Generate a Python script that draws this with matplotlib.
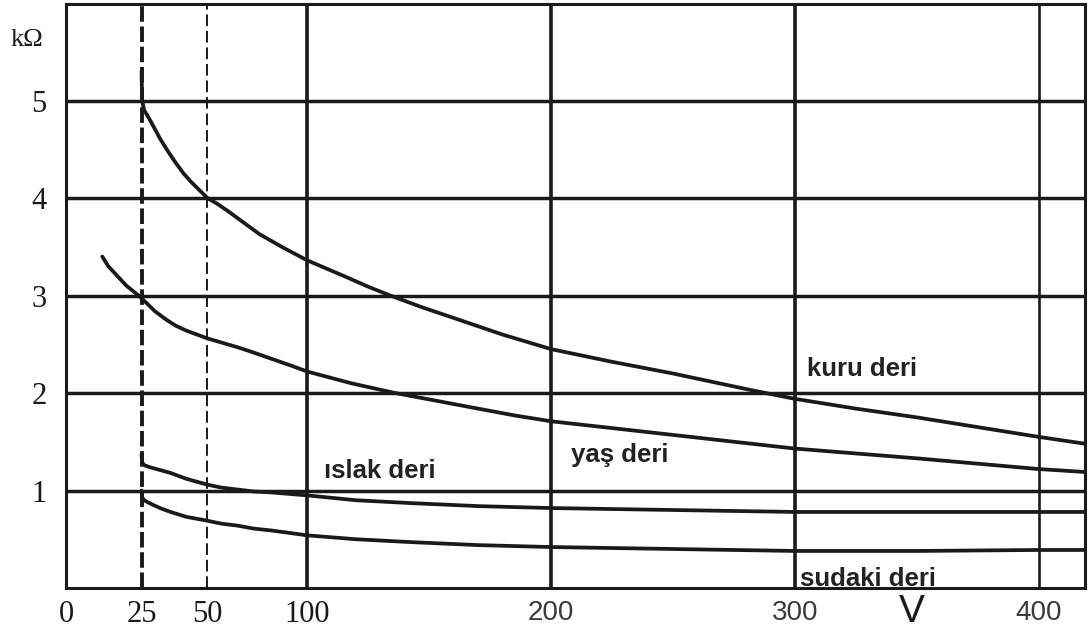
import numpy as np
import matplotlib
matplotlib.use("Agg")
import matplotlib.pyplot as plt

# Skin resistance (kΩ) against touch voltage (V)
kuru_v = [25, 25.2, 26, 28, 30, 32, 35, 38, 41, 44, 47, 50, 55, 60, 68, 76, 88, 100, 115, 125, 134,
          147, 160, 180, 200, 225, 250, 282, 300, 325, 350, 375, 400, 419]
kuru_r = [5.3, 5.0, 4.9, 4.81, 4.71, 4.61, 4.48, 4.36, 4.25, 4.16, 4.08, 4.0, 3.94, 3.87, 3.75, 3.63, 3.49, 3.36, 3.2, 3.09, 3.0,
          2.88, 2.77, 2.6, 2.45, 2.32, 2.2, 2.03, 1.94, 1.84, 1.75, 1.65, 1.55, 1.48]

yas_v = [12, 14, 17, 20, 24, 27, 30, 34.5, 38, 42, 46, 50, 55, 60, 65, 71, 78, 85, 92, 100, 118, 136, 153, 170, 185,
         200, 225, 250, 275, 300, 350, 400, 419]
yas_r = [3.4, 3.3, 3.2, 3.1, 3.0, 2.92, 2.84, 2.75, 2.69, 2.64, 2.6, 2.56, 2.53, 2.5, 2.47, 2.43, 2.38, 2.33, 2.28, 2.22, 2.1, 2.0, 1.92, 1.84, 1.77,
         1.71, 1.64, 1.57, 1.5, 1.43, 1.33, 1.22, 1.19]

islak_v = [25, 25.2, 26, 28, 32, 36, 42, 50, 57, 65, 73, 82, 100, 120, 143, 170, 200, 250, 300, 350, 400, 419]
islak_r = [1.37, 1.29, 1.26, 1.24, 1.21, 1.18, 1.12, 1.06, 1.03, 1.01, 0.99, 0.98, 0.95, 0.9, 0.87, 0.84, 0.82, 0.8, 0.78, 0.78, 0.78, 0.78]

sudaki_v = [25, 25.2, 26, 28, 32, 36, 42, 50, 57, 65, 73, 82, 100, 120, 143, 170, 200, 250, 300, 350, 400, 419]
sudaki_r = [1.0, 0.93, 0.9, 0.87, 0.82, 0.78, 0.73, 0.69, 0.66, 0.64, 0.61, 0.59, 0.54, 0.5, 0.47, 0.44, 0.42, 0.4, 0.38, 0.38, 0.39, 0.39]

x_ticks = [0, 25, 50, 100, 200, 300, 400]
y_ticks = [1, 2, 3, 4, 5]
solid_v = [100, 200, 300, 400]

# The low-voltage part of the axis is drawn stretched (0-50 V wider, 50-100 V narrower)
_kn_v = [0, 25, 50, 100, 1000]
_kn_u = [0, 31, 58, 99, 999]


def fwd(x):
    return np.interp(x, _kn_v, _kn_u)


def inv(u):
    return np.interp(u, _kn_u, _kn_v)


fig = plt.figure(figsize=(10.88, 6.43), dpi=100)
ax = fig.add_axes([66 / 1088, 1 - 588 / 643, (1085 - 66) / 1088, (588 - 4) / 643])
ax.set_xscale("function", functions=(fwd, inv))
ax.set_xlim(0, 419)
ax.set_ylim(0, 5.99)

ink = "#1a1a1a"

# grid
for y in y_ticks:
    ax.axhline(y, color=ink, lw=2.5, zorder=1)
for x in solid_v:
    ax.axvline(x, color=ink, lw=2.6 if x < 400 else 1.9, zorder=1)
ax.axvline(25, color=ink, lw=2.8, ls=(0, (4, 1.2)), zorder=1)
ax.axvline(50, color=ink, lw=1.4, ls=(0, (6, 2.5)), zorder=1)

for sp in ax.spines.values():
    sp.set_color(ink)
    sp.set_linewidth(2.2)

# curves
for v, r in [(kuru_v, kuru_r), (yas_v, yas_r), (islak_v, islak_r), (sudaki_v, sudaki_r)]:
    ax.plot(v, r, color=ink, lw=2.7, solid_capstyle="round", solid_joinstyle="round", zorder=3)

lab = dict(family="Liberation Sans", fontsize=18.5, fontweight="bold", color="#222222", va="center", ha="left")
ax.text(305, 2.25, "kuru deri", **lab)
ax.text(208, 1.36, "yaş deri", **lab)
ax.text(107, 1.20, "ıslak deri", **lab)
ax.text(302, 0.09, "sudaki deri", **lab)

# ticks
ax.set_xticks(x_ticks)
ax.set_xticklabels([str(t) for t in x_ticks])
ax.set_yticks(y_ticks)
ax.set_yticklabels([str(t) for t in y_ticks])
ax.tick_params(axis="both", length=0, colors=ink)
ax.tick_params(axis="x", pad=9)
ax.tick_params(axis="y", pad=14)
for t in ax.get_xticklabels():
    if t.get_text() in ("200", "300", "400"):
        t.set_fontfamily("Liberation Sans")
        t.set_fontsize(20)
        t.set_color("#3a3a3a")
    else:
        t.set_fontfamily("Liberation Serif")
        t.set_fontsize(22)
for t in ax.get_yticklabels():
    t.set_fontfamily("Liberation Serif")
    t.set_fontsize(22)

fig.text(27 / 1088, 1 - 40 / 643, "kΩ", family="Liberation Serif", fontsize=19,
         ha="center", va="center", color=ink)
fig.text(912 / 1088, 1 - 612 / 643, "V", family="Liberation Sans", fontsize=28,
         ha="center", va="center", color=ink)

fig.savefig("out.png", dpi=100, facecolor="white")
